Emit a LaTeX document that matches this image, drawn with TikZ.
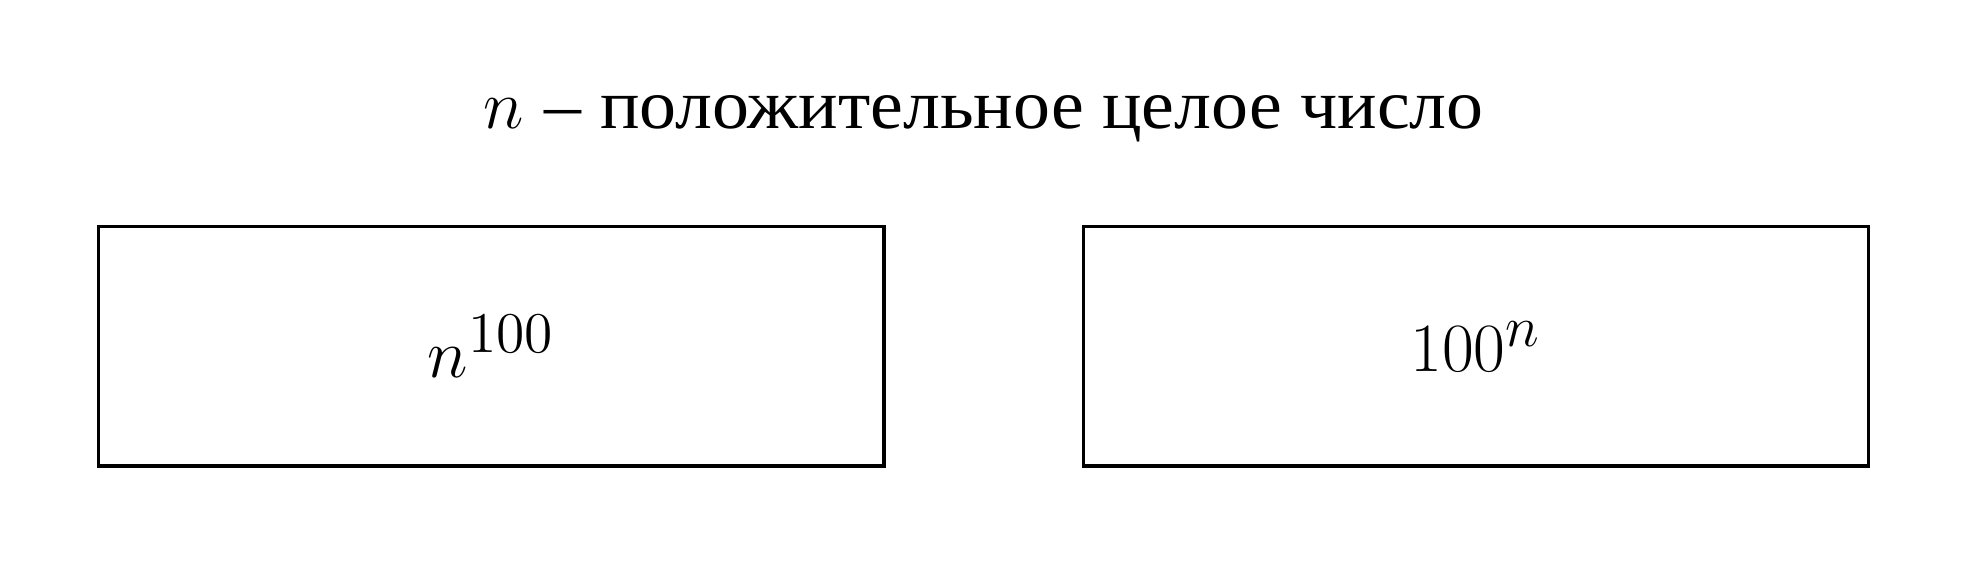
\documentclass[tikz,border=0pt]{standalone}
\usepackage[no-math]{fontspec}
\newfontfamily\cyrfont[FakeStretch=1.055]{Liberation Serif}
\begin{document}
\begin{tikzpicture}[x=0.25pt,y=-0.25pt,
  box/.style={draw=black, line width=0.8pt, minimum width=196.4pt, minimum height=59.9pt, inner sep=0pt, font=\fontsize{19}{23}\selectfont},
  titlestyle/.style={inner sep=0pt, anchor=base, font=\fontsize{17.5}{21}\selectfont}]
\useasboundingbox (0,0) rectangle (1969,568);
\node[titlestyle] (title) at (983.5,128) {$n$ {\cyrfont – положительное целое число}};
\node[box] (left) at (491.25,346.25) {$n^{100}$};
\node[box] (right) at (1476,346.25) {$100^n$};
\end{tikzpicture}
\end{document}
